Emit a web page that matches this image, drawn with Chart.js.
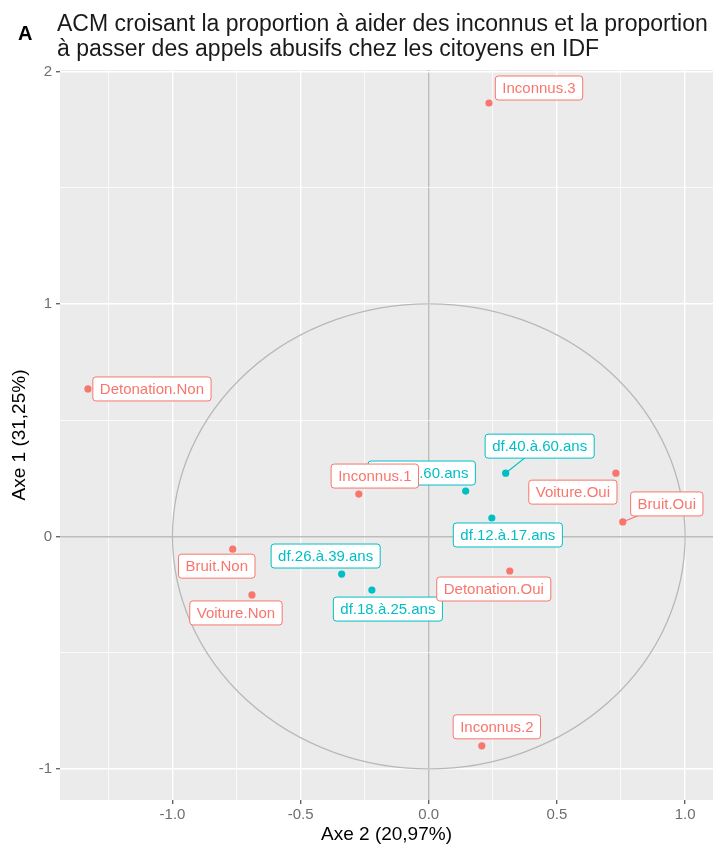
<!DOCTYPE html>
<html>
<head>
<meta charset="utf-8">
<script src="https://cdn.jsdelivr.net/npm/chart.js@4"></script>
<style>
html, body { margin: 0; padding: 0; background: #fff; }
canvas { display: block; }
</style>
</head>
<body>
<canvas id="acm" width="713" height="846"></canvas>
<script>
// modalites "reponse" (rouge) et tranches d'age (bleu)
const modalites = ['Inconnus.3', 'Detonation.Non', 'Voiture.Oui', 'Bruit.Oui', 'Inconnus.1',
    'Detonation.Oui', 'Bruit.Non', 'Voiture.Non', 'Inconnus.2'];
const modalitesAxe2 = [0.235, -1.33, 0.73, 0.757, -0.273, 0.316, -0.765, -0.69, 0.207];
const modalitesAxe1 = [1.864, 0.634, 0.272, 0.062, 0.182, -0.149, -0.055, -0.252, -0.901];

const ages = ['df.40.à.60.ans', 'df.plus.60.ans', 'df.12.à.17.ans', 'df.26.à.39.ans', 'df.18.à.25.ans'];
const agesAxe2 = [0.30, 0.144, 0.246, -0.34, -0.222];
const agesAxe1 = [0.272, 0.195, 0.079, -0.162, -0.231];

const titreX = 'Axe 2 (20,97%)';
const titreY = 'Axe 1 (31,25%)';
const titre = ['ACM croisant la proportion à aider des inconnus et la proportion',
    'à passer des appels abusifs chez les citoyens en IDF'];

// decalage des etiquettes (px), comme ggrepel les a posees
const decalModalites = [[50, -15], [64, 0], [-43, 19], [44, -18], [16, -18], [-16, 18], [-16, 17], [-16, 18], [15, -19]];
const decalAges = [[34, -27], [-44, -18], [16, 17], [-16, -18], [16, 19]];

const ROUGE = '#F8766D';
const BLEU = '#00BFC4';
const POLICE = "'Liberation Sans', Arial, sans-serif";

function versPoints(xs, ys) {
    return xs.map((x, i) => ({ x: x, y: ys[i] }));
}

function estMultiple(v, pas) {
    const r = v / pas;
    return Math.abs(r - Math.round(r)) < 1e-6;
}

function couleurGrille(ctx) {
    const v = ctx.tick.value;
    if (Math.abs(v) < 1e-9) return '#bdbdbd';
    return '#ffffff';
}

const fondPanneau = {
    id: 'fondPanneau',
    beforeDraw(chart) {
        const a = chart.chartArea;
        const c = chart.ctx;
        c.save();
        c.fillStyle = '#ebebeb';
        c.fillRect(a.left, a.top, a.right - a.left, a.bottom - a.top);
        c.restore();
    }
};

const cercle = {
    id: 'cercle',
    beforeDatasetsDraw(chart) {
        const sx = chart.scales.x, sy = chart.scales.y;
        const cx = sx.getPixelForValue(0), cy = sy.getPixelForValue(0);
        const rx = sx.getPixelForValue(1) - cx;
        const ry = cy - sy.getPixelForValue(1);
        const c = chart.ctx;
        c.save();
        c.strokeStyle = '#b8b8b8';
        c.lineWidth = 1.3;
        c.beginPath();
        c.ellipse(cx, cy, rx, ry, 0, 0, Math.PI * 2);
        c.stroke();
        c.restore();
    }
};

function boite(c, x, y, w, h, r) {
    c.beginPath();
    c.moveTo(x + r, y);
    c.lineTo(x + w - r, y);
    c.arcTo(x + w, y, x + w, y + r, r);
    c.lineTo(x + w, y + h - r);
    c.arcTo(x + w, y + h, x + w - r, y + h, r);
    c.lineTo(x + r, y + h);
    c.arcTo(x, y + h, x, y + h - r, r);
    c.lineTo(x, y + r);
    c.arcTo(x, y, x + r, y, r);
    c.closePath();
}

const etiquettes = {
    id: 'etiquettes',
    afterDatasetsDraw(chart) {
        const c = chart.ctx;
        const groupes = [
            { ds: 1, noms: ages, decal: decalAges, coul: BLEU },
            { ds: 0, noms: modalites, decal: decalModalites, coul: ROUGE }
        ];
        c.save();
        c.font = '15px ' + POLICE;
        groupes.forEach(g => {
            const meta = chart.getDatasetMeta(g.ds);
            meta.data.forEach((pt, i) => {
                const texte = g.noms[i];
                const w = c.measureText(texte).width + 14;
                const h = 24;
                const cx = pt.x + g.decal[i][0];
                const cy = pt.y + g.decal[i][1];
                const bx = cx - w / 2, by = cy - h / 2;
                // segment si l'etiquette est loin du point
                const nx = Math.max(bx, Math.min(pt.x, bx + w));
                const ny = Math.max(by, Math.min(pt.y, by + h));
                const dist = Math.hypot(nx - pt.x, ny - pt.y);
                if (dist > 9) {
                    const dx = cx - pt.x, dy = cy - pt.y;
                    const n = Math.hypot(dx, dy);
                    const t = Math.min((w / 2) / Math.abs(dx || 1e-9), (h / 2) / Math.abs(dy || 1e-9));
                    const ex = cx - dx * t, ey = cy - dy * t;
                    c.strokeStyle = g.coul;
                    c.lineWidth = 1.2;
                    c.beginPath();
                    c.moveTo(pt.x + dx / n * 3, pt.y + dy / n * 3);
                    c.lineTo(ex, ey);
                    c.stroke();
                }
                boite(c, bx, by, w, h, 3);
                c.fillStyle = '#ffffff';
                c.fill();
                c.strokeStyle = g.coul;
                c.lineWidth = 1;
                c.stroke();
                c.fillStyle = g.coul;
                c.textAlign = 'center';
                c.textBaseline = 'middle';
                c.fillText(texte, cx, cy + 1);
            });
        });
        c.restore();
    }
};

const textes = {
    id: 'textes',
    afterDraw(chart) {
        const c = chart.ctx;
        const a = chart.chartArea;
        c.save();
        c.fillStyle = '#000';
        c.textBaseline = 'alphabetic';
        c.textAlign = 'left';
        c.font = 'bold 20px ' + POLICE;
        c.fillText('A', 18, 40);
        c.fillStyle = '#1a1a1a';
        c.font = '23px ' + POLICE;
        c.fillText(titre[0], 57, 31);
        c.fillText(titre[1], 57, 56);

        c.fillStyle = '#000';
        c.font = '19px ' + POLICE;
        c.textAlign = 'center';
        c.textBaseline = 'middle';
        c.fillText(titreX, (a.left + a.right) / 2, 835);
        c.translate(20, (a.top + a.bottom) / 2);
        c.rotate(-Math.PI / 2);
        c.fillText(titreY, 0, 0);
        c.restore();
    }
};

const ctx = document.getElementById('acm').getContext('2d');
new Chart(ctx, {
    type: 'scatter',
    data: {
        datasets: [
            {
                label: 'modalites',
                data: versPoints(modalitesAxe2, modalitesAxe1),
                backgroundColor: ROUGE,
                borderWidth: 0,
                pointRadius: 3.6
            },
            {
                label: 'ages',
                data: versPoints(agesAxe2, agesAxe1),
                backgroundColor: BLEU,
                borderWidth: 0,
                pointRadius: 3.6
            }
        ]
    },
    options: {
        responsive: false,
        devicePixelRatio: 1,
        animation: false,
        layout: { autoPadding: false, padding: { top: 70, left: 0, right: 0, bottom: 0 } },
        plugins: {
            legend: { display: false },
            tooltip: { enabled: false }
        },
        scales: {
            x: {
                type: 'linear',
                position: 'bottom',
                min: -1.439,
                max: 1.109,
                border: { display: false },
                grid: {
                    color: couleurGrille,
                    lineWidth: c => (estMultiple(c.tick.value, 0.5) ? 1.4 : 0.7),
                    tickLength: 4,
                    tickColor: c => (estMultiple(c.tick.value, 0.5) ? '#666' : 'rgba(0,0,0,0)')
                },
                ticks: {
                    stepSize: 0.25,
                    includeBounds: false,
                    autoSkip: false,
                    maxRotation: 0,
                    padding: 2,
                    color: '#6e6e6e',
                    font: { family: POLICE, size: 15 },
                    callback: v => (estMultiple(v, 0.5) ? v.toFixed(1) : '')
                },
                afterFit: s => {
                    s.height = 46;
                    s.paddingLeft = 0;
                    s.paddingRight = 0;
                }
            },
            y: {
                type: 'linear',
                position: 'left',
                min: -1.134,
                max: 2.006,
                border: { display: false },
                grid: {
                    color: couleurGrille,
                    lineWidth: c => (estMultiple(c.tick.value, 1) ? 1.4 : 0.7),
                    tickLength: 4,
                    tickColor: c => (estMultiple(c.tick.value, 1) ? '#666' : 'rgba(0,0,0,0)')
                },
                ticks: {
                    stepSize: 0.5,
                    includeBounds: false,
                    autoSkip: false,
                    padding: 4,
                    color: '#6e6e6e',
                    font: { family: POLICE, size: 15 },
                    callback: v => (estMultiple(v, 1) ? String(Math.round(v)) : '')
                },
                afterFit: s => {
                    s.width = 60;
                    s.paddingTop = 0;
                    s.paddingBottom = 0;
                }
            }
        }
    },
    plugins: [fondPanneau, cercle, etiquettes, textes]
});
</script>
</body>
</html>
